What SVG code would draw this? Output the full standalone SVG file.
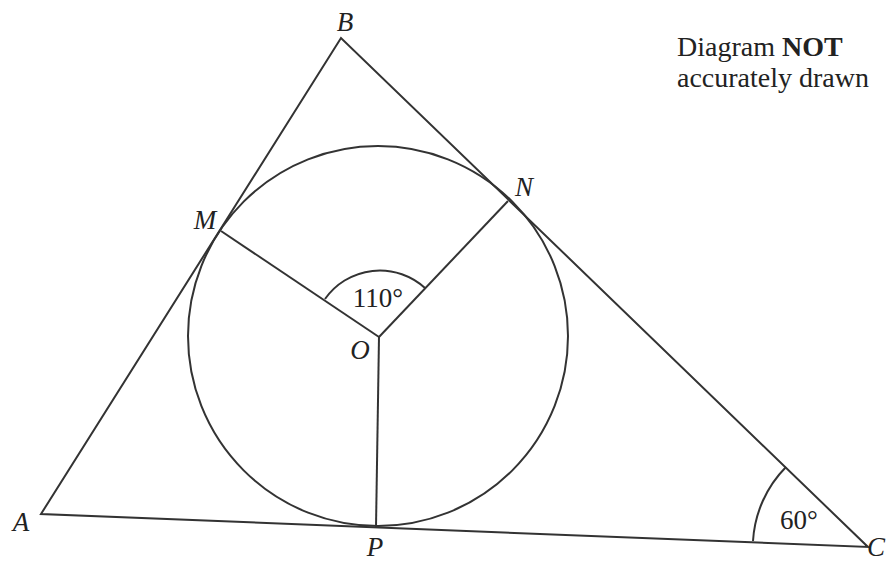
<svg xmlns="http://www.w3.org/2000/svg" width="888" height="563" viewBox="0 0 888 563">
<style>
.ln{stroke:#333;stroke-width:2;fill:none;stroke-linejoin:miter}
.lb{font-family:"Liberation Serif",serif;font-style:italic;font-size:27px;fill:#222}
.tx{font-family:"Liberation Serif",serif;font-size:27px;fill:#222}
.dg{font-family:"Liberation Serif",serif;font-size:28px;fill:#222}
</style>
<rect width="888" height="563" fill="#fff"/>
<g id="triangle">
<polygon class="ln" points="41,514 341,38 868,547"/>
</g>
<g id="circle">
<circle class="ln" cx="378" cy="336" r="190"/>
</g>
<g id="connectors">
<line class="ln" x1="379" y1="337" x2="221" y2="231"/>
<line class="ln" x1="379" y1="337" x2="508" y2="201"/>
<line class="ln" x1="379" y1="337" x2="376" y2="527"/>
<path class="ln" d="M325,299 A67,67 0 0 1 425,288"/>
<path class="ln" d="M786,467 A115,115 0 0 0 753,541"/>
</g>
<g id="labels">
<text class="lb" x="345" y="31" text-anchor="middle">B</text>
<text class="lb" x="205" y="229" text-anchor="middle">M</text>
<text class="lb" x="524" y="196" text-anchor="middle">N</text>
<text class="lb" x="360" y="359" text-anchor="middle">O</text>
<text class="lb" x="21" y="531" text-anchor="middle">A</text>
<text class="lb" x="375" y="556" text-anchor="middle">P</text>
<text class="lb" x="867" y="556">C</text>
<text class="tx" x="378" y="307" text-anchor="middle">110°</text>
<text class="tx" x="799" y="529" text-anchor="middle">60°</text>
<text class="dg" x="677" y="56">Diagram <tspan font-weight="bold">NOT</tspan></text>
<text class="dg" x="677" y="87">accurately drawn</text>
</g>
</svg>
